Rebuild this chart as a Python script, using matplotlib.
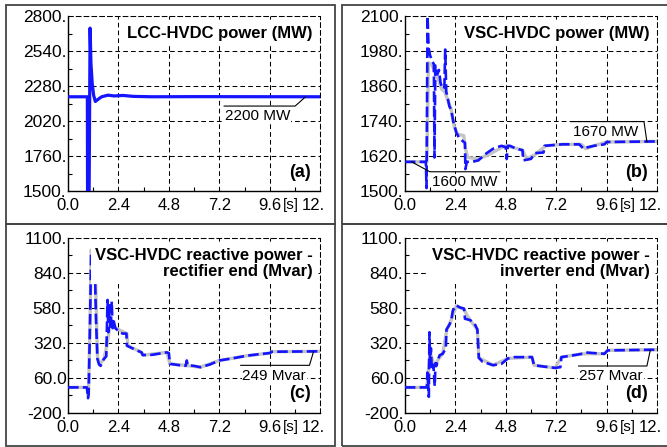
import numpy as np
import matplotlib
matplotlib.use('Agg')
import matplotlib.pyplot as plt
import matplotlib.transforms as mtransforms
from matplotlib.patches import Rectangle
from matplotlib.ticker import FixedLocator, FixedFormatter, AutoMinorLocator

plt.rcParams['font.family'] = ['Liberation Sans', 'DejaVu Sans']

# ---- data (time in s) ----
# (a) LCC-HVDC power (MW)
t_a = [0, 0.92, 0.93, 1.0, 1.05, 1.09, 1.15, 1.22, 1.3, 1.42, 1.6, 1.9, 2.2, 2.6, 3.1, 4.0, 6.0, 12.0]
p_a = [2200, 2200, 1400, 1400, 2710, 2450, 2300, 2210, 2165, 2180, 2200, 2212, 2206, 2210, 2203, 2200, 2201, 2200]

# (b) VSC-HVDC power (MW), blue dashed + grey reference
t_b = [0, 1.0, 1.03, 1.08, 1.13, 1.2, 1.3, 1.38, 1.41, 1.45, 1.55, 1.62, 1.7, 1.8, 1.88, 1.92,
       1.97, 2.05, 2.12, 2.2, 2.3, 2.45, 2.6, 2.86, 2.88, 2.95, 3.2, 3.5, 3.8, 4.2, 4.6, 4.8,
       4.85, 4.9, 5.0, 5.3, 5.6, 5.63, 6.0, 6.2, 6.6, 6.65, 7.5, 8.3, 8.5, 8.7, 9.0, 9.5, 9.6, 12.0]
p_b = [1600, 1600, 1510, 2100, 1990, 1965, 1945, 1935, 1615, 1930, 1900, 1915, 1870, 1850, 1855, 1985,
       1840, 1815, 1790, 1780, 1740, 1700, 1680, 1665, 1575, 1600, 1600, 1605, 1625, 1645, 1655, 1650,
       1610, 1655, 1655, 1645, 1640, 1605, 1610, 1630, 1632, 1655, 1660, 1660, 1645, 1650, 1655, 1660, 1668, 1670]
t_b_ref = [0, 1.05, 1.12, 1.3, 1.45, 1.6, 1.75, 1.9, 2.05, 2.2, 2.35, 2.5, 2.8, 2.9, 3.0, 3.5,
           4.0, 4.5, 4.8, 5.2, 5.6, 5.8, 6.2, 6.7, 7.5, 8.4, 8.6, 9.0, 9.6, 12.0]
p_b_ref = [1600, 1600, 1940, 1930, 1905, 1880, 1850, 1840, 1810, 1780, 1720, 1695, 1690, 1640, 1615, 1610,
           1625, 1645, 1655, 1648, 1640, 1610, 1625, 1655, 1660, 1660, 1645, 1655, 1668, 1670]

# (c) reactive power, rectifier end (Mvar)
t_c = [0, 0.9, 0.95, 0.98, 1.05, 1.1, 1.15, 1.22, 1.28, 1.33, 1.4, 1.48, 1.55, 1.7, 1.82, 1.88,
       1.92, 1.98, 2.03, 2.08, 2.12, 2.18, 2.25, 2.32, 2.45, 2.6, 2.78, 2.8, 3.0, 3.2, 3.5, 3.55,
       4.0, 4.5, 4.7, 4.8, 4.85, 5.3, 5.6, 5.65, 5.7, 6.0, 6.3, 6.75, 7.2, 7.8, 8.5, 9.0, 9.6, 9.7, 12.0]
q_c = [-10, -10, -90, -60, 500, 990, 960, 900, 850, 500, 200, 160, 150, 200, 220, 640,
       400, 600, 420, 630, 430, 480, 430, 420, 400, 390, 390, 300, 285, 270, 250, 230,
       232, 245, 250, 245, 165, 155, 150, 190, 155, 150, 140, 160, 190, 205, 225, 235, 245, 255, 258]
t_c_ref = [0, 0.9, 0.97, 1.05, 1.1, 1.2, 1.3, 1.4, 1.5, 1.7, 1.85, 2.0, 2.2, 2.4, 2.8, 2.85,
           3.5, 3.6, 4.7, 4.85, 5.5, 6.3, 7.2, 8.5, 9.6, 9.7, 12.0]
q_c_ref = [-10, -10, -80, 500, 1010, 930, 860, 220, 160, 200, 300, 450, 440, 420, 390, 300,
           250, 230, 250, 165, 155, 140, 190, 225, 245, 255, 258]

# (d) reactive power, inverter end (Mvar)
t_d = [0, 1.05, 1.07, 1.1, 1.14, 1.17, 1.2, 1.24, 1.28, 1.32, 1.36, 1.42, 1.46, 1.5, 1.58, 1.66,
       1.8, 1.95, 1.98, 2.1, 2.2, 2.28, 2.45, 2.6, 2.82, 2.86, 3.1, 3.3, 3.45, 3.52, 3.7, 4.2,
       4.6, 4.9, 5.2, 6.05, 6.15, 6.6, 7.15, 7.4, 7.45, 8.0, 8.45, 8.6, 9.0, 9.5, 9.65, 12.0]
q_d = [-10, -10, 100, 60, -80, 400, 180, 280, 120, 160, 150, 0, 170, 150, 200, 230,
       240, 280, 420, 450, 480, 560, 600, 585, 575, 500, 490, 470, 420, 210, 180, 155,
       165, 205, 215, 215, 155, 145, 135, 140, 215, 228, 240, 250, 245, 240, 265, 270]
t_d_ref = [0, 1.05, 1.2, 1.4, 1.6, 1.8, 2.0, 2.2, 2.45, 2.8, 3.1, 3.45, 3.52, 4.2, 4.9, 6.05,
           6.15, 7.15, 7.45, 8.45, 9.5, 9.65, 12.0]
q_d_ref = [-10, -10, 250, 150, 200, 240, 420, 490, 595, 570, 490, 420, 210, 155, 205, 215,
           155, 135, 215, 240, 240, 265, 270]

x_ticks = [0.0, 2.4, 4.8, 7.2, 9.6, 12.0]
x_labels = ['0.0', '2.4', '4.8', '7.2', '9.6', '12.']

panels = [
    dict(rect=[0.102, 0.5727, 0.378, 0.3915], ylim=(1500, 2800),
         yticks=[1500, 1760, 2020, 2280, 2540, 2800],
         ylabels=['1500.', '1760.', '2020.', '2280.', '2540.', '2800.'],
         title='LCC-HVDC power (MW)', tag='(a)'),
    dict(rect=[0.607, 0.5727, 0.378, 0.3915], ylim=(1500, 2100),
         yticks=[1500, 1620, 1740, 1860, 1980, 2100],
         ylabels=['1500.', '1620.', '1740.', '1860.', '1980.', '2100.'],
         title='VSC-HVDC power (MW)', tag='(b)'),
    dict(rect=[0.102, 0.0761, 0.378, 0.3915], ylim=(-200, 1100),
         yticks=[-200, 60, 320, 580, 840, 1100],
         ylabels=['-200.', '60.0', '320.', '580.', '840.', '1100.'],
         title='VSC-HVDC reactive power -\nrectifier end (Mvar)', tag='(c)'),
    dict(rect=[0.607, 0.0761, 0.378, 0.3915], ylim=(-200, 1100),
         yticks=[-200, 60, 320, 580, 840, 1100],
         ylabels=['-200.', '60.0', '320.', '580.', '840.', '1100.'],
         title='VSC-HVDC reactive power -\ninverter end (Mvar)', tag='(d)'),
]

blue = '#1414ff'
grey = '#c4c4c4'

fig = plt.figure(figsize=(6.67, 4.47), dpi=100)

# panel frames
for (x0, y0, w, h) in [(0.009, 0.499, 0.493, 0.49), (0.513, 0.499, 0.52, 0.49),
                       (0.009, 0.003, 0.493, 0.496), (0.513, 0.003, 0.52, 0.496)]:
    fig.add_artist(Rectangle((x0, y0), w, h, transform=fig.transFigure, fill=False,
                             edgecolor='#444444', lw=1.3))

axes = []
for p in panels:
    ax = fig.add_axes(p['rect'])
    ax.set_xlim(0, 12)
    ax.set_ylim(*p['ylim'])
    ax.xaxis.set_major_locator(FixedLocator(x_ticks))
    ax.xaxis.set_major_formatter(FixedFormatter(x_labels))
    ax.yaxis.set_major_locator(FixedLocator(p['yticks']))
    ax.yaxis.set_major_formatter(FixedFormatter(p['ylabels']))
    ax.xaxis.set_minor_locator(AutoMinorLocator(2))
    ax.yaxis.set_minor_locator(AutoMinorLocator(2))
    ax.tick_params(which='both', direction='in', colors='black')
    ax.tick_params(axis='x', labelsize=12, pad=5)
    ax.tick_params(axis='y', labelsize=12.5, pad=1)
    ax.tick_params(which='major', length=0)
    ax.tick_params(which='minor', length=3, width=0.8)
    ax.grid(True, which='major', color='black', lw=0.75, linestyle=(0, (4.5, 3)))
    for s in ['top', 'right']:
        ax.spines[s].set_linestyle((0, (4.5, 3)))
        ax.spines[s].set_linewidth(0.75)
    for s in ['left', 'bottom']:
        ax.spines[s].set_linewidth(1.0)
    # last x label sits a little left of its tick
    lbl = ax.get_xticklabels()[-1]
    lbl.set_transform(lbl.get_transform() + mtransforms.ScaledTranslation(-5 / 72, 0, fig.dpi_scale_trans))
    ax.text(10.62, -0.04, '[s]', transform=ax.get_xaxis_transform(), ha='center', va='top', fontsize=11)
    ax.text(0.97, 0.945, p['title'], transform=ax.transAxes, ha='right', va='top', fontsize=12,
            fontweight='bold', multialignment='right', linespacing=1.15,
            bbox=dict(facecolor='white', edgecolor='none', pad=3), zorder=5)
    ax.text(0.965, 0.06, p['tag'], transform=ax.transAxes, ha='right', va='bottom', fontsize=13,
            fontweight='bold', bbox=dict(facecolor='white', edgecolor='none', pad=1), zorder=5)
    axes.append(ax)

ax_a, ax_b, ax_c, ax_d = axes

ax_a.plot(t_a, p_a, color=blue, lw=2.3, zorder=3)

dash = (0, (4, 1.6))
ax_b.plot(t_b_ref, p_b_ref, color=grey, lw=2.4, zorder=2)
ax_b.plot(t_b, p_b, color=blue, lw=1.9, linestyle=dash, zorder=3)
ax_c.plot(t_c_ref, q_c_ref, color=grey, lw=2.4, zorder=2)
ax_c.plot(t_c, q_c, color=blue, lw=1.9, linestyle=dash, zorder=3)
ax_d.plot(t_d_ref, q_d_ref, color=grey, lw=2.4, zorder=2)
ax_d.plot(t_d, q_d, color=blue, lw=1.9, linestyle=dash, zorder=3)

# value call-outs with leader lines
notes = [
    (ax_a, '2200 MW', [(7.43, 2131), (10.81, 2131), (11.29, 2198)], (7.45, 2112)),
    (ax_b, '1600 MW', [(0.32, 1600), (1.19, 1566), (4.52, 1566)], (1.3, 1556)),
    (ax_b, '1670 MW', [(7.9, 1738), (11.38, 1738), (11.52, 1669)], (8.0, 1728)),
    (ax_c, '249 Mvar', [(8.22, 154), (11.49, 154), (11.68, 253)], (8.3, 130)),
    (ax_d, '257 Mvar', [(8.27, 149), (11.52, 149), (11.68, 266)], (8.3, 125)),
]
for ax, txt, pts, pos in notes:
    xs, ys = zip(*pts)
    ax.plot(xs, ys, color='black', lw=0.8, zorder=6)
    ax.text(pos[0], pos[1], txt, ha='left', va='top', fontsize=11, zorder=5,
            bbox=dict(facecolor='white', edgecolor='none', pad=0.5))

fig.savefig('out.png', dpi=100)
